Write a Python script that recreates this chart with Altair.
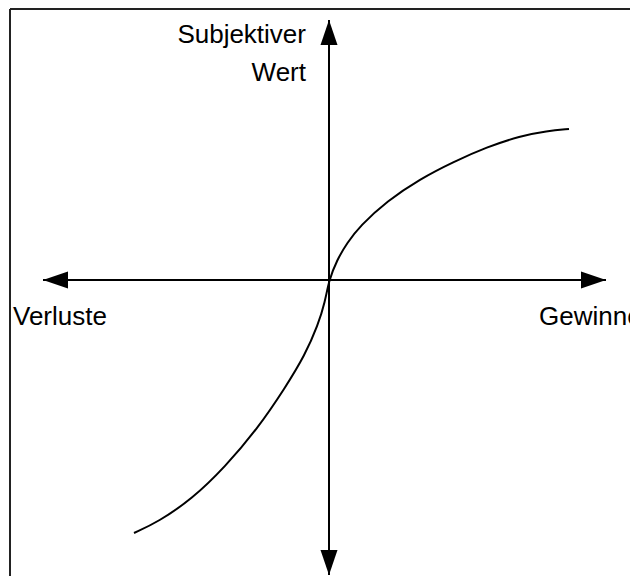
import altair as alt
import pandas as pd

# Value function (offsets from the origin; x: losses(-)/gains(+), y: subjective value)
curve_x = [-195, -171, -137, -104, -71, -44, -24, -11, -4, 0, 8, 18, 31, 58, 91, 124, 158, 191, 218, 240]
curve_y = [-253, -242, -219, -187, -148, -108, -75, -45, -22, 0, 20, 37, 54, 79, 101, 118, 133, 144, 149, 151]

# Axis extents (arrow tips)
h_axis = [-286, 277]
v_axis = [-295, 260]

# Labels
label_text = ["Subjektiver", "Wert", "Verluste", "Gewinne"]
label_x = [-23, -23, -316, 210]
label_y = [237, 199, -45, -45]

X_DOM = [-321, 301]
Y_DOM = [-296, 272]

def xs(field, **kw):
    return alt.X(field, type="quantitative", scale=alt.Scale(domain=X_DOM, nice=False, zero=False), axis=None, **kw)

def ys(field, **kw):
    return alt.Y(field, type="quantitative", scale=alt.Scale(domain=Y_DOM, nice=False, zero=False), axis=None, **kw)

curve_df = pd.DataFrame({"x": curve_x, "y": curve_y})
curve = alt.Chart(curve_df).mark_line(color="black", strokeWidth=2, interpolate="basis").encode(
    x=xs("x"), y=ys("y"), order="x:Q"
)

axes_df = pd.DataFrame({
    "x": [h_axis[0], 0], "x2": [h_axis[1], 0],
    "y": [0, v_axis[0]], "y2": [0, v_axis[1]],
})
axes = alt.Chart(axes_df).mark_rule(color="black", strokeWidth=2).encode(
    x=xs("x"), x2="x2", y=ys("y"), y2="y2"
)

border_df = pd.DataFrame({
    "x": [-319, -319], "x2": [X_DOM[1], -319],
    "y": [271, 271], "y2": [271, Y_DOM[0]],
})
border = alt.Chart(border_df).mark_rule(color="#222222", strokeWidth=2).encode(
    x=xs("x"), x2="x2", y=ys("y"), y2="y2"
)

UP = "M0,0L-0.68,2L0.68,2Z"
DOWN = "M0,0L-0.68,-2L0.68,-2Z"
LEFT = "M0,0L2,-0.68L2,0.68Z"
RIGHT = "M0,0L-2,-0.68L-2,0.68Z"
heads_df = pd.DataFrame({
    "x": [h_axis[0], h_axis[1], 0, 0],
    "y": [0, 0, v_axis[1], v_axis[0]],
    "dir": ["left", "right", "up", "down"],
})
heads = alt.Chart(heads_df).mark_point(filled=True, color="black", opacity=1, strokeWidth=0, size=625).encode(
    x=xs("x"), y=ys("y"),
    shape=alt.Shape("dir:N", scale=alt.Scale(domain=["left", "right", "up", "down"], range=[LEFT, RIGHT, UP, DOWN]), legend=None),
)

lab_df = pd.DataFrame({"t": label_text, "x": label_x, "y": label_y})
lab_right = alt.Chart(lab_df.iloc[:2]).mark_text(
    align="right", baseline="alphabetic", font="Liberation Sans", fontSize=26, color="black"
).encode(x=xs("x"), y=ys("y"), text="t:N")
lab_left = alt.Chart(lab_df.iloc[2:]).mark_text(
    align="left", baseline="alphabetic", font="Liberation Sans", fontSize=26, color="black"
).encode(x=xs("x"), y=ys("y"), text="t:N")

chart = alt.layer(border, axes, curve, heads, lab_right, lab_left).properties(
    width=622, height=568, padding=0, autosize=alt.AutoSizeParams(type="none")
).configure_view(stroke=None)

chart.save("out.html", embed_options={"renderer": "svg", "actions": False})
